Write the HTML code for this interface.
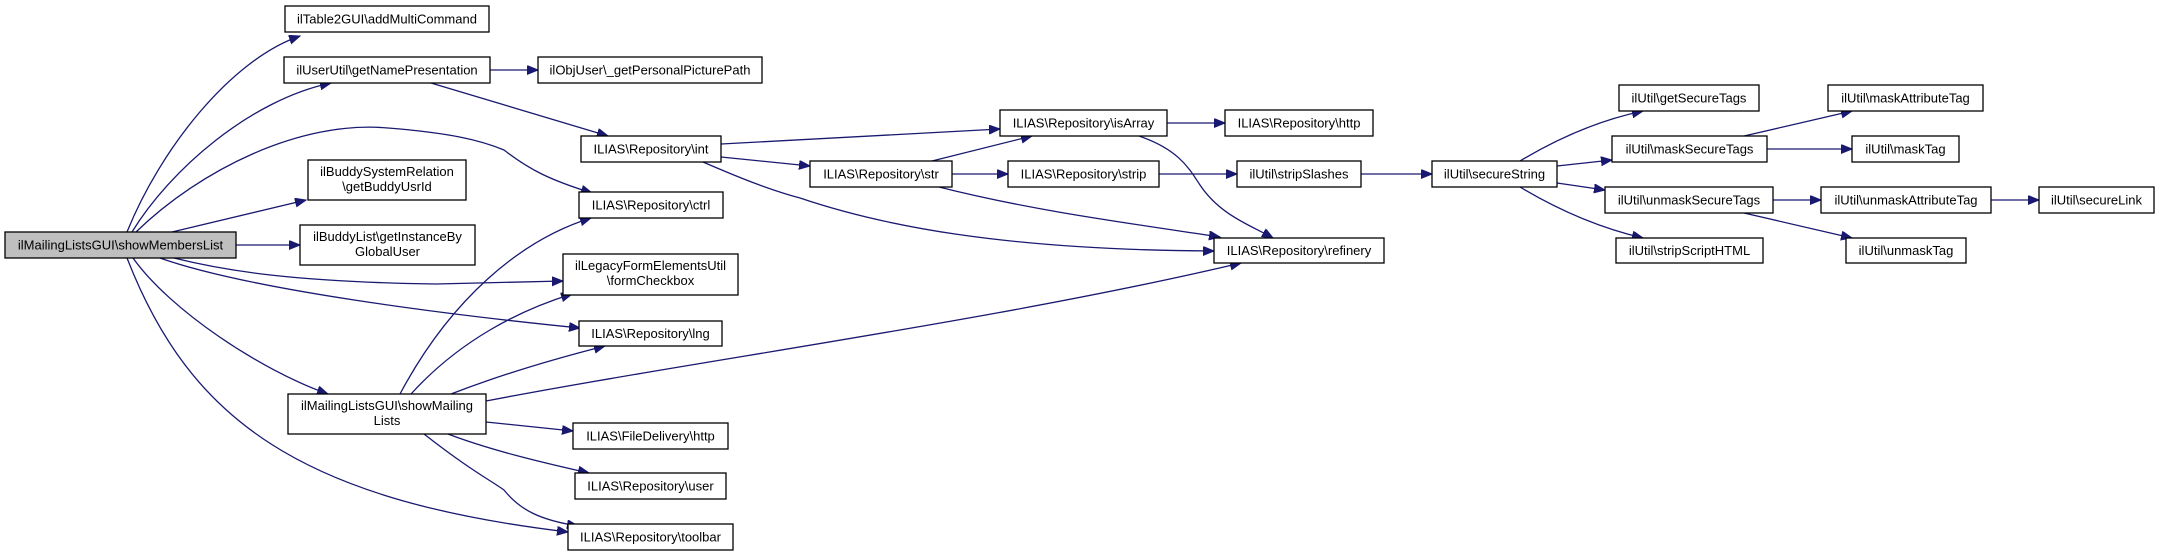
<!DOCTYPE html>
<html><head><meta charset="utf-8"><style>
html,body{margin:0;padding:0;background:#fff;}
svg{display:block;}
text{font-family:"Liberation Sans",Arial,sans-serif;font-size:13px;fill:#000;}
.n{fill:#fff;stroke:#000;stroke-width:1.3;}
.e{fill:none;stroke:#191970;stroke-width:1.3;}
</style></head><body>
<svg width="2159" height="553" viewBox="0 0 2159 553" xmlns="http://www.w3.org/2000/svg">
<defs><marker id="a" markerUnits="userSpaceOnUse" markerWidth="12" markerHeight="10" refX="11" refY="4.5" orient="auto"><path d="M0,0 L11,4.5 L0,9 z" fill="#191970" stroke="#191970"/></marker></defs>
<g class="e" marker-end="url(#a)">
<path d="M127,232 C160,150 230,60 300,36"/>
<path d="M132,232 C170,170 250,100 331,83"/>
<path d="M136,232 C200,170 300,120 388,128 C450,133 480,140 504,150 C530,170 550,180 592,193"/>
<path d="M172,232 L306,200"/>
<path d="M236,245 L300,245"/>
<path d="M174,258 C230,272 300,282 436,284 L563,281"/>
<path d="M160,258 C250,290 450,315 580,328"/>
<path d="M133,258 C170,310 260,370 328,394"/>
<path d="M127,258 C190,420 300,500 568,532"/>
<path d="M490,70 L538,70"/>
<path d="M431,83 L608,136"/>
<path d="M400,394 C450,300 520,240 591,218"/>
<path d="M411,394 C460,340 520,310 572,294"/>
<path d="M451,394 C500,375 550,360 605,346"/>
<path d="M486,401 C700,360 1000,320 1241,263"/>
<path d="M486,422 L573,431"/>
<path d="M448,434 C490,450 540,462 589,473"/>
<path d="M424,434 C470,470 490,480 504,490 C520,510 540,520 578,526"/>
<path d="M721,144 L1000,129"/>
<path d="M721,157 L810,166"/>
<path d="M703,162 C740,178 770,190 800,198 C880,225 1000,250 1214,251"/>
<path d="M932,161 L1032,136"/>
<path d="M952,174 L1008,174"/>
<path d="M939,187 C1030,210 1120,222 1220,237"/>
<path d="M1167,123 L1225,123"/>
<path d="M1139,136 C1180,150 1190,170 1200,185 C1220,215 1250,225 1273,238"/>
<path d="M1159,174 L1237,174"/>
<path d="M1361,174 L1432,174"/>
<path d="M1520,161 C1560,137 1600,120 1643,111"/>
<path d="M1557,166 L1612,160"/>
<path d="M1557,183 L1605,190"/>
<path d="M1520,187 C1560,211 1600,228 1643,238"/>
<path d="M1744,136 L1852,111"/>
<path d="M1767,149 L1852,149"/>
<path d="M1773,200 L1821,200"/>
<path d="M1744,213 L1852,238"/>
<path d="M1991,200 L2039,200"/>
</g>
<g>
<rect x="5" y="232" width="231" height="26" fill="#bfbfbf" stroke="#000" stroke-width="1.3"/>
<text x="120.5" y="249.5" text-anchor="middle">ilMailingListsGUI\showMembersList</text>
<rect class="n" x="285" y="6" width="204" height="26"/><text x="387" y="23.5" text-anchor="middle">ilTable2GUI\addMultiCommand</text>
<rect class="n" x="284" y="57" width="206" height="26"/><text x="387" y="74.5" text-anchor="middle">ilUserUtil\getNamePresentation</text>
<rect class="n" x="538" y="57" width="224" height="26"/><text x="650" y="74.5" text-anchor="middle">ilObjUser\_getPersonalPicturePath</text>
<rect class="n" x="581" y="136" width="140" height="26"/><text x="651" y="153.5" text-anchor="middle">ILIAS\Repository\int</text>
<rect class="n" x="308" y="160" width="158" height="40"/><text x="387" y="176" text-anchor="middle">ilBuddySystemRelation</text><text x="387" y="191" text-anchor="middle">\getBuddyUsrId</text>
<rect class="n" x="579" y="192" width="144" height="26"/><text x="651" y="209.5" text-anchor="middle">ILIAS\Repository\ctrl</text>
<rect class="n" x="300" y="225" width="175" height="40"/><text x="387.5" y="241" text-anchor="middle">ilBuddyList\getInstanceBy</text><text x="387.5" y="256" text-anchor="middle">GlobalUser</text>
<rect class="n" x="563" y="254" width="175" height="41"/><text x="650.5" y="270" text-anchor="middle">ilLegacyFormElementsUtil</text><text x="650.5" y="285" text-anchor="middle">\formCheckbox</text>
<rect class="n" x="579" y="321" width="143" height="25"/><text x="650.5" y="338" text-anchor="middle">ILIAS\Repository\lng</text>
<rect class="n" x="288" y="394" width="198" height="40"/><text x="387" y="410" text-anchor="middle">ilMailingListsGUI\showMailing</text><text x="387" y="425" text-anchor="middle">Lists</text>
<rect class="n" x="573" y="423" width="155" height="26"/><text x="650.5" y="440.5" text-anchor="middle">ILIAS\FileDelivery\http</text>
<rect class="n" x="575" y="473" width="151" height="26"/><text x="650.5" y="490.5" text-anchor="middle">ILIAS\Repository\user</text>
<rect class="n" x="568" y="524" width="165" height="26"/><text x="650.5" y="541.5" text-anchor="middle">ILIAS\Repository\toolbar</text>
<rect class="n" x="1000" y="110" width="167" height="26"/><text x="1083.5" y="127.5" text-anchor="middle">ILIAS\Repository\isArray</text>
<rect class="n" x="1225" y="110" width="148" height="26"/><text x="1299" y="127.5" text-anchor="middle">ILIAS\Repository\http</text>
<rect class="n" x="810" y="161" width="142" height="26"/><text x="881" y="178.5" text-anchor="middle">ILIAS\Repository\str</text>
<rect class="n" x="1008" y="161" width="151" height="26"/><text x="1083.5" y="178.5" text-anchor="middle">ILIAS\Repository\strip</text>
<rect class="n" x="1237" y="161" width="124" height="26"/><text x="1299" y="178.5" text-anchor="middle">ilUtil\stripSlashes</text>
<rect class="n" x="1432" y="161" width="125" height="26"/><text x="1494.5" y="178.5" text-anchor="middle">ilUtil\secureString</text>
<rect class="n" x="1214" y="238" width="170" height="25"/><text x="1299" y="255" text-anchor="middle">ILIAS\Repository\refinery</text>
<rect class="n" x="1619" y="85" width="140" height="26"/><text x="1689" y="102.5" text-anchor="middle">ilUtil\getSecureTags</text>
<rect class="n" x="1612" y="136" width="155" height="26"/><text x="1689.5" y="153.5" text-anchor="middle">ilUtil\maskSecureTags</text>
<rect class="n" x="1605" y="187" width="168" height="26"/><text x="1689" y="204.5" text-anchor="middle">ilUtil\unmaskSecureTags</text>
<rect class="n" x="1616" y="238" width="147" height="25"/><text x="1689.5" y="255" text-anchor="middle">ilUtil\stripScriptHTML</text>
<rect class="n" x="1828" y="85" width="155" height="26"/><text x="1905.5" y="102.5" text-anchor="middle">ilUtil\maskAttributeTag</text>
<rect class="n" x="1852" y="136" width="107" height="26"/><text x="1905.5" y="153.5" text-anchor="middle">ilUtil\maskTag</text>
<rect class="n" x="1821" y="187" width="170" height="26"/><text x="1906" y="204.5" text-anchor="middle">ilUtil\unmaskAttributeTag</text>
<rect class="n" x="2039" y="187" width="115" height="26"/><text x="2096.5" y="204.5" text-anchor="middle">ilUtil\secureLink</text>
<rect class="n" x="1846" y="238" width="120" height="25"/><text x="1906" y="255" text-anchor="middle">ilUtil\unmaskTag</text>
</g>
</svg>
</body></html>
